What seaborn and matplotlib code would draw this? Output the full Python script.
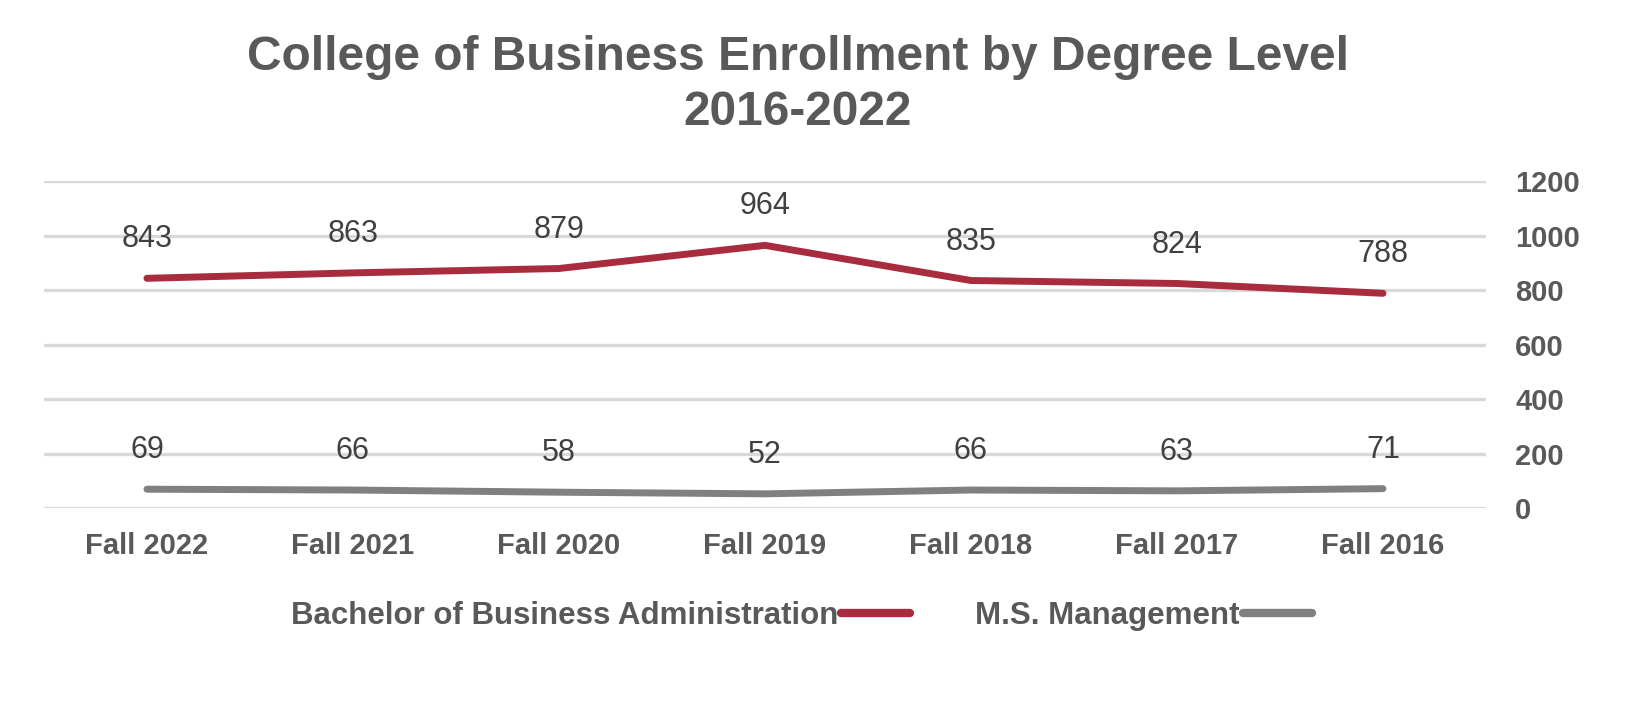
import pandas as pd
import matplotlib
matplotlib.use("Agg")
import matplotlib.pyplot as plt
import seaborn as sns

# --- data ---
terms = ['Fall 2016', 'Fall 2017', 'Fall 2018', 'Fall 2019', 'Fall 2020', 'Fall 2021', 'Fall 2022']
bba = [788, 824, 835, 964, 879, 863, 843]
msm = [71, 63, 66, 52, 58, 66, 69]
series_names = ['Bachelor of Business Administration', 'M.S. Management']
series_colors = ['#A92B3E', '#808080']

df = pd.DataFrame({
    'Term': terms * 2,
    'Enrollment': bba + msm,
    'Program': [series_names[0]] * len(terms) + [series_names[1]] * len(terms),
})

sns.set_theme(style='whitegrid')
plt.rcParams['font.family'] = ['Liberation Sans', 'DejaVu Sans']

fig = plt.figure(figsize=(16.52, 7.10), dpi=100)
ax = fig.add_axes([0.0266, 0.2845, 0.8729, 0.4605])

sns.lineplot(data=df, x='Term', y='Enrollment', hue='Program',
             palette=dict(zip(series_names, series_colors)),
             linewidth=5, sort=False, ax=ax, legend=True)
for line in ax.get_lines():
    line.set_solid_capstyle('round')

# data labels above each point
for vals, name in [(bba, series_names[0]), (msm, series_names[1])]:
    for i, v in enumerate(vals):
        ax.annotate(str(v), (i, v), xytext=(0, 28), textcoords='offset points',
                    ha='center', va='center', fontsize=22, color='#404040')

ax.set_xlim(6.5, -0.5)   # Fall 2016 on the right
ax.set_ylim(0, 1200)
ax.set_yticks(range(0, 1201, 200))
ax.yaxis.tick_right()
ax.grid(axis='y', color='#D9D9D9', linewidth=2.4)
ax.grid(axis='x', visible=False)
for s in ax.spines.values():
    s.set_visible(False)
ax.tick_params(axis='y', length=0, pad=21, labelsize=21, labelcolor='#595959')
ax.tick_params(axis='x', length=0, pad=17, labelsize=21, labelcolor='#595959')
for lbl in ax.get_xticklabels() + ax.get_yticklabels():
    lbl.set_fontweight('bold')
ax.set_xlabel('')
ax.set_ylabel('')

# legend below the chart
handles, labels = ax.get_legend_handles_labels()
ax.get_legend().remove()
leg = fig.legend(handles, labels, loc='center', bbox_to_anchor=(0.485, 0.132),
                 ncol=2, frameon=False, markerfirst=False, handlelength=2.2,
                 handletextpad=0.1, columnspacing=2.1,
                 prop={'size': 22.5, 'weight': 'bold'})
for t in leg.get_texts():
    t.set_color('#595959')
for h in leg.legend_handles:
    h.set_linewidth(6)
    h.set_solid_capstyle('round')

fig.text(0.483, 0.880, 'College of Business Enrollment by Degree Level\n2016-2022',
         ha='center', va='center', fontsize=34.5, fontweight='bold',
         color='#595959', linespacing=1.3)

fig.savefig('out.png', dpi=100)
